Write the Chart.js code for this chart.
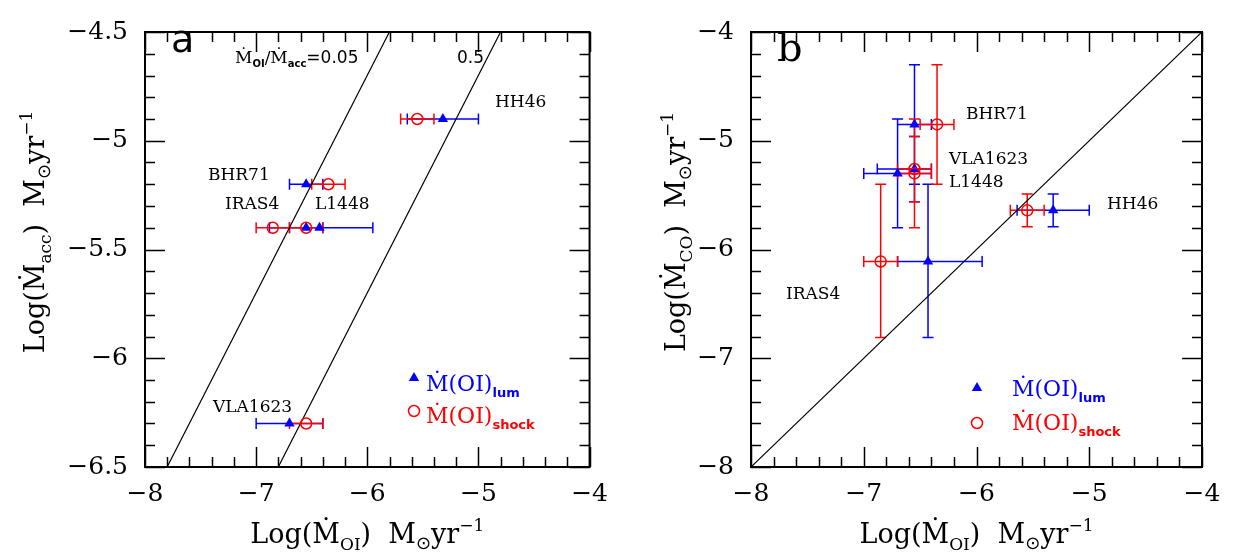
<!DOCTYPE html>
<html>
<head>
<meta charset="utf-8">
<script src="https://cdn.jsdelivr.net/npm/chart.js@4.4.1/dist/chart.umd.min.js"></script>
<style>
  body { margin: 0; background: #fff; }
  #wrap { position: relative; width: 1237px; height: 554px; }
  canvas { position: absolute; top: 0; }
</style>
</head>
<body>
<div id="wrap">
  <canvas id="chartA" width="620" height="554" style="left:0"></canvas>
  <canvas id="chartB" width="617" height="554" style="left:620px"></canvas>
</div>
<script>
// sources, in the same order in every array
const sources = ['HH46', 'BHR71', 'IRAS4', 'L1448', 'VLA1623'];

// log Mdot(OI) from line luminosity (blue triangles)
const oiLum   = [-5.32, -6.55, -6.43, -6.55, -6.70];
const oiLumLo = [-5.64, -6.70, -6.70, -6.88, -7.00];
const oiLumHi = [-5.00, -6.40, -5.95, -6.40, -6.40];

// log Mdot(OI) from shock model (red circles)
const oiShock   = [-5.55, -6.35, -6.85, -6.55, -6.55];
const oiShockLo = [-5.70, -6.50, -7.00, -6.70, -6.70];
const oiShockHi = [-5.40, -6.20, -6.70, -6.40, -6.40];

// panel a: log Mdot(acc)
const accRate = [-4.90, -5.20, -5.40, -5.40, -6.30];

// panel b: log Mdot(CO) with errors
const coRate   = [-5.64, -4.85, -6.11, -5.26, -5.30];
const coRateLo = [-5.79, -5.40, -6.81, -5.56, -5.80];
const coRateHi = [-5.49, -4.30, -5.40, -4.96, -4.80];

// reference lines (end points)
const ratio005X = [-7.801, -5.801], ratio005Y = [-6.5, -4.5];
const ratio05X  = [-6.801, -4.801], ratio05Y  = [-6.5, -4.5];
const unityX = [-8, -4], unityY = [-8, -4];

const xTicksA = { min: -8, max: -4, step: 1, minor: 0.2 };
const yTicksA = { min: -6.5, max: -4.5, step: 0.5, minor: 0.1 };
const xTicksB = { min: -8, max: -4, step: 1, minor: 0.2 };
const yTicksB = { min: -8, max: -4, step: 1, minor: 0.2 };

const BLUE = '#0000ff', RED = '#ff0000';
const SERIF = 'DejaVu Serif', SANS = 'DejaVu Sans';

const pts = (xs, ys) => xs.map((x, i) => ({ x: x, y: ys[i] }));
const fmt = v => String(Math.round(v * 10) / 10).replace('-', '\u2212');

function drawRich(ctx, parts, x, y, align, rotate) {
    ctx.save();
    ctx.translate(x, y);
    if (rotate) ctx.rotate(-Math.PI / 2);
    ctx.textAlign = 'left';
    ctx.textBaseline = 'alphabetic';
    let w = 0;
    parts.forEach(p => { ctx.font = p.f; p.w = ctx.measureText(p.t).width; w += p.w; });
    let cx = align === 'center' ? -w / 2 : 0;
    parts.forEach(p => {
        ctx.font = p.f;
        ctx.fillStyle = p.c || '#000';
        ctx.fillText(p.t, cx, p.dy || 0);
        cx += p.w;
    });
    ctx.restore();
}

// frame with inward major and minor ticks on all four sides
const axisFrame = {
    id: 'axisFrame',
    afterDraw(chart, args, opts) {
        const { ctx, chartArea: a, scales: { x, y } } = chart;
        ctx.save();
        ctx.strokeStyle = '#000';
        ctx.lineWidth = 1.5;
        ctx.beginPath();
        const tx = opts.x, ty = opts.y;
        let n = Math.round((tx.max - tx.min) / tx.minor);
        for (let i = 0; i <= n; i++) {
            const v = tx.min + i * tx.minor;
            const major = Math.abs(v / tx.step - Math.round(v / tx.step)) < 1e-6;
            const len = major ? 20 : 10;
            const px = Math.round(x.getPixelForValue(v)) + 0.5;
            ctx.moveTo(px, a.bottom); ctx.lineTo(px, a.bottom - len);
            ctx.moveTo(px, a.top); ctx.lineTo(px, a.top + len);
        }
        n = Math.round((ty.max - ty.min) / ty.minor);
        for (let i = 0; i <= n; i++) {
            const v = ty.min + i * ty.minor;
            const major = Math.abs(v / ty.step - Math.round(v / ty.step)) < 1e-6;
            const len = major ? 20 : 10;
            const py = Math.round(y.getPixelForValue(v)) + 0.5;
            ctx.moveTo(a.left, py); ctx.lineTo(a.left + len, py);
            ctx.moveTo(a.right, py); ctx.lineTo(a.right - len, py);
        }
        ctx.stroke();
        ctx.lineWidth = 2;
        ctx.strokeRect(a.left, a.top, a.right - a.left, a.bottom - a.top);

        // axis titles
        drawRich(ctx, opts.xTitle, (a.left + a.right) / 2, 543, 'center');
        drawRich(ctx, opts.yTitle, opts.yTitleX, 232, 'center', true);
        // text notes
        opts.notes.forEach(nt => drawRich(ctx, nt.parts, nt.x, nt.y, 'left'));
        // legend markers
        opts.keys.forEach(k => {
            ctx.beginPath();
            if (k.shape === 'triangle') {
                ctx.fillStyle = BLUE;
                ctx.moveTo(k.x, k.y - 6); ctx.lineTo(k.x + 5.2, k.y + 3); ctx.lineTo(k.x - 5.2, k.y + 3);
                ctx.closePath(); ctx.fill();
            } else {
                ctx.strokeStyle = RED; ctx.lineWidth = 1.5;
                ctx.arc(k.x, k.y, 5.5, 0, Math.PI * 2); ctx.stroke();
            }
        });
        ctx.restore();
    }
};

// error bars with caps
const errorBars = {
    id: 'errorBars',
    beforeDatasetsDraw(chart, args, opts) {
        const { ctx, chartArea: a, scales: { x, y } } = chart;
        const cap = 5.5;
        ctx.save();
        ctx.beginPath(); ctx.rect(a.left, a.top, a.right - a.left, a.bottom - a.top); ctx.clip();
        ctx.lineWidth = 1.5;
        opts.sets.forEach(s => {
            ctx.strokeStyle = s.color;
            ctx.beginPath();
            s.x.forEach((xv, i) => {
                const px = x.getPixelForValue(xv), py = y.getPixelForValue(s.y[i]);
                if (s.xlo) {
                    const l = x.getPixelForValue(s.xlo[i]), r = x.getPixelForValue(s.xhi[i]);
                    ctx.moveTo(l, py); ctx.lineTo(r, py);
                    ctx.moveTo(l, py - cap); ctx.lineTo(l, py + cap);
                    ctx.moveTo(r, py - cap); ctx.lineTo(r, py + cap);
                }
                if (s.ylo) {
                    const b = y.getPixelForValue(s.ylo[i]), t = y.getPixelForValue(s.yhi[i]);
                    ctx.moveTo(px, b); ctx.lineTo(px, t);
                    ctx.moveTo(px - cap, b); ctx.lineTo(px + cap, b);
                    ctx.moveTo(px - cap, t); ctx.lineTo(px + cap, t);
                }
            });
            ctx.stroke();
        });
        ctx.restore();
    }
};

function scaleOpts(t, size, pad) {
    return {
        type: 'linear', min: t.min, max: t.max,
        grid: { display: false, drawTicks: false },
        border: { display: false },
        ticks: {
            stepSize: t.step, autoSkip: false, maxRotation: 0, padding: pad,
            color: '#000', font: { family: SERIF, size: 25 },
            callback: fmt
        },
        afterFit: s => { if (s.isHorizontal()) s.height = size; else s.width = size; }
    };
}

function lineSet(xs, ys) {
    return { data: pts(xs, ys), showLine: true, borderColor: '#000', borderWidth: 1.2, pointRadius: 0, order: 3 };
}
function lumSet(ys) {
    return { data: pts(oiLum, ys), pointStyle: 'triangle', pointRadius: 6, backgroundColor: BLUE, borderColor: BLUE, borderWidth: 0, order: 2 };
}
function shockSet(ys) {
    return { data: pts(oiShock, ys), pointStyle: 'circle', pointRadius: 5.5, backgroundColor: 'rgba(0,0,0,0)', borderColor: RED, borderWidth: 1.5, order: 1 };
}

const big = s => s + 'px ' + SERIF;
const xTitle = [
    { t: 'Log(\u1E40', f: big(27) }, { t: 'OI', f: big(17), dy: 7 }, { t: ')  M', f: big(27) },
    { t: '\u2299', f: '18px ' + SANS, dy: 6 }, { t: 'yr', f: big(27) }, { t: '\u22121', f: big(17), dy: -12 }
];
const legendParts = (sub, color) => [
    { t: '\u1E40(OI)', f: big(22), c: color }, { t: sub, f: 'bold 13px ' + SANS, dy: 6, c: color }
];

// panel a
new Chart(document.getElementById('chartA'), {
    type: 'scatter',
    data: {
        datasets: [
            lineSet(ratio005X, ratio005Y),
            lineSet(ratio05X, ratio05Y),
            lumSet(accRate),
            shockSet(accRate)
        ]
    },
    options: {
        responsive: false, animation: false,
        layout: { padding: { top: 17, right: 24, left: 0, bottom: 0 } },
        scales: { x: scaleOpts(xTicksA, 87, 12), y: scaleOpts(yTicksA, 145, 17) },
        plugins: {
            legend: { display: false }, tooltip: { enabled: false },
            errorBars: { sets: [
                { color: BLUE, x: oiLum, y: accRate, xlo: oiLumLo, xhi: oiLumHi },
                { color: RED, x: oiShock, y: accRate, xlo: oiShockLo, xhi: oiShockHi }
            ] },
            axisFrame: {
                x: xTicksA, y: yTicksA,
                xTitle: xTitle,
                yTitle: [
                    { t: 'Log(\u1E40', f: big(27) }, { t: 'acc', f: big(17), dy: 7 }, { t: ')  M', f: big(27) },
                    { t: '\u2299', f: '18px ' + SANS, dy: 6 }, { t: 'yr', f: big(27) }, { t: '\u22121', f: big(17), dy: -12 }
                ],
                yTitleX: 44,
                notes: [
                    { x: 171, y: 52, parts: [{ t: 'a', f: '38px ' + SANS }] },
                    { x: 235, y: 63, parts: [
                        { t: '\u1E40', f: big(17) }, { t: 'OI', f: 'bold 10px ' + SANS, dy: 4 },
                        { t: '/\u1E40', f: big(17) }, { t: 'acc', f: 'bold 10px ' + SANS, dy: 4 },
                        { t: '=0.05', f: '17px ' + SANS }
                    ] },
                    { x: 457, y: 63, parts: [{ t: '0.5', f: '17px ' + SANS }] },
                    { x: 495, y: 107, parts: [{ t: sources[0], f: big(17) }] },
                    { x: 208, y: 180, parts: [{ t: sources[1], f: big(17) }] },
                    { x: 225, y: 209, parts: [{ t: sources[2], f: big(17) }] },
                    { x: 315, y: 209, parts: [{ t: sources[3], f: big(17) }] },
                    { x: 213, y: 412, parts: [{ t: sources[4], f: big(17) }] },
                    { x: 426, y: 391, parts: legendParts('lum', BLUE) },
                    { x: 426, y: 423, parts: legendParts('shock', RED) }
                ],
                keys: [{ shape: 'triangle', x: 414, y: 378 }, { shape: 'circle', x: 414, y: 411 }]
            }
        }
    },
    plugins: [errorBars, axisFrame]
});

// panel b
new Chart(document.getElementById('chartB'), {
    type: 'scatter',
    data: {
        datasets: [
            lineSet(unityX, unityY),
            lumSet(coRate),
            shockSet(coRate)
        ]
    },
    options: {
        responsive: false, animation: false,
        layout: { padding: { top: 17, right: 35, left: 0, bottom: 0 } },
        scales: { x: scaleOpts(xTicksB, 87, 12), y: scaleOpts(yTicksB, 131, 17) },
        plugins: {
            legend: { display: false }, tooltip: { enabled: false },
            errorBars: { sets: [
                { color: BLUE, x: oiLum, y: coRate, xlo: oiLumLo, xhi: oiLumHi, ylo: coRateLo, yhi: coRateHi },
                { color: RED, x: oiShock, y: coRate, xlo: oiShockLo, xhi: oiShockHi, ylo: coRateLo, yhi: coRateHi }
            ] },
            axisFrame: {
                x: xTicksB, y: yTicksB,
                xTitle: xTitle,
                yTitle: [
                    { t: 'Log(\u1E40', f: big(27) }, { t: 'CO', f: big(17), dy: 7 }, { t: ')  M', f: big(27) },
                    { t: '\u2299', f: '18px ' + SANS, dy: 6 }, { t: 'yr', f: big(27) }, { t: '\u22121', f: big(17), dy: -12 }
                ],
                yTitleX: 65,
                notes: [
                    { x: 157, y: 61, parts: [{ t: 'b', f: '40px ' + SERIF }] },
                    { x: 346, y: 119, parts: [{ t: sources[1], f: big(17) }] },
                    { x: 329, y: 164, parts: [{ t: sources[4], f: big(17) }] },
                    { x: 329, y: 187, parts: [{ t: sources[3], f: big(17) }] },
                    { x: 487, y: 209, parts: [{ t: sources[0], f: big(17) }] },
                    { x: 166, y: 299, parts: [{ t: sources[2], f: big(17) }] },
                    { x: 392, y: 396, parts: legendParts('lum', BLUE) },
                    { x: 392, y: 430, parts: legendParts('shock', RED) }
                ],
                keys: [{ shape: 'triangle', x: 357, y: 388 }, { shape: 'circle', x: 357, y: 423 }]
            }
        }
    },
    plugins: [errorBars, axisFrame]
});
</script>
</body>
</html>
